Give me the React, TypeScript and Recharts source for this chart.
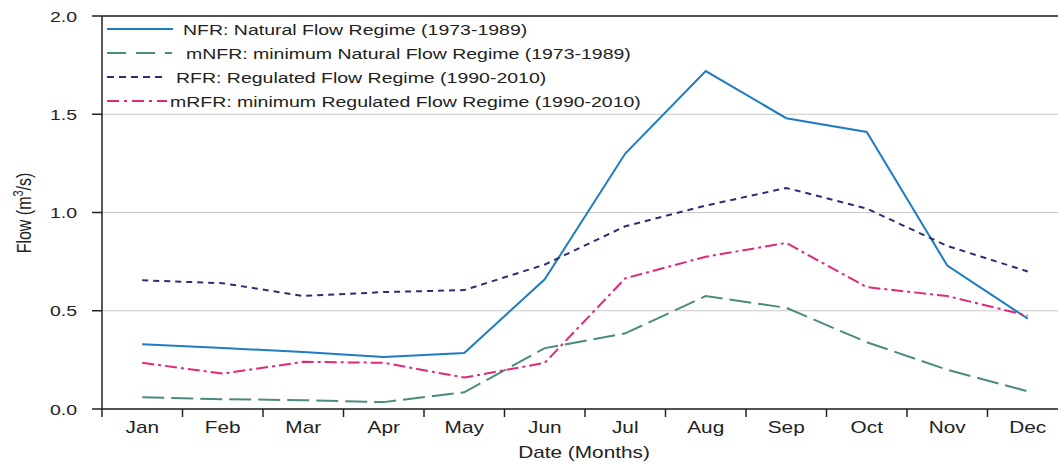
import React from "react";
import { LineChart, Line, XAxis, YAxis, CartesianGrid, ReferenceLine, Legend } from "recharts";

const months = ["Jan", "Feb", "Mar", "Apr", "May", "Jun", "Jul", "Aug", "Sep", "Oct", "Nov", "Dec"];
const nfr = [0.33, 0.31, 0.29, 0.265, 0.285, 0.66, 1.3, 1.72, 1.48, 1.41, 0.73, 0.46];
const mnfr = [0.06, 0.05, 0.045, 0.035, 0.085, 0.31, 0.385, 0.575, 0.515, 0.34, 0.2, 0.09];
const rfr = [0.655, 0.64, 0.575, 0.595, 0.605, 0.735, 0.93, 1.035, 1.125, 1.02, 0.83, 0.7];
const mrfr = [0.235, 0.18, 0.24, 0.235, 0.16, 0.235, 0.665, 0.775, 0.845, 0.62, 0.575, 0.475];
const yTicks = [0, 0.5, 1.0, 1.5, 2.0];

const data = months.map((m, i) => ({ idx: i, month: m, nfr: nfr[i], mnfr: mnfr[i], rfr: rfr[i], mrfr: mrfr[i] }));
const xTicks: number[] = [];
for (let i = -0.5; i <= 11.5; i += 0.5) xTicks.push(i);

const FONT = "'Liberation Sans', Arial, Helvetica, sans-serif";
const SX = 1.3;

const series = [
  { key: "nfr", name: "NFR: Natural Flow Regime (1973-1989)", color: "#1f7cc2", dash: undefined as string | undefined, textX: 183, sampleEnd: 173, sampleDash: undefined as string | undefined },
  { key: "mnfr", name: "mNFR: minimum Natural Flow Regime (1973-1989)", color: "#4b8a7f", dash: "22 7", textX: 186, sampleEnd: 172, sampleDash: "19 10" },
  { key: "rfr", name: "RFR: Regulated Flow Regime (1990-2010)", color: "#2d2d74", dash: "6 5", textX: 176, sampleEnd: 162, sampleDash: "7 5" },
  { key: "mrfr", name: "mRFR: minimum Regulated Flow Regime (1990-2010)", color: "#e0287c", dash: "12 4 3 4", textX: 170, sampleEnd: 167, sampleDash: "12 5 3 5" },
];

const SText = ({ x, y, size, anchor, children }: any) => (
  <text
    transform={`translate(${x},${y}) scale(${SX},1)`}
    x={0}
    y={0}
    textAnchor={anchor || "start"}
    fontSize={size}
    fill="#222"
    fontFamily={FONT}
  >
    {children}
  </text>
);

const XTick = (props: any) => {
  const { x, y, payload } = props;
  const v = payload.value;
  if (Math.abs(v - Math.round(v)) < 1e-6) {
    return (
      <SText x={x} y={y + 24} size={16} anchor="middle">
        {months[Math.round(v)]}
      </SText>
    );
  }
  return <line x1={x} x2={x} y1={y} y2={y + 8} stroke="#222" strokeWidth={1.5} />;
};

const YTick = (props: any) => {
  const { x, y, payload } = props;
  return (
    <SText x={x} y={y + 5.5} size={15} anchor="end">
      {Number(payload.value).toFixed(1)}
    </SText>
  );
};

const LegendContent = () => (
  <svg width={600} height={100} style={{ display: "block" }}>
    {series.map((s, i) => {
      const cy = 11 + i * 24;
      return (
        <g key={s.key}>
          <line x1={5} x2={s.sampleEnd - 102} y1={cy} y2={cy} stroke={s.color} strokeWidth={2} strokeDasharray={s.sampleDash} />
          <SText x={s.textX - 102} y={cy + 5.5} size={15}>
            {s.name}
          </SText>
        </g>
      );
    })}
  </svg>
);

export default function App() {
  return (
    <div style={{ position: "absolute", left: 0, top: 0, width: 1058, height: 466, overflow: "hidden", background: "#fff" }}>
      <LineChart width={1070} height={466} data={data} margin={{ top: 16, right: 2, bottom: 0, left: 0 }}>
        <CartesianGrid vertical={false} stroke="#c8c8c8" strokeWidth={1} />
        <XAxis
          dataKey="idx"
          type="number"
          domain={[-0.5, 11.5]}
          ticks={xTicks}
          interval={0}
          tickLine={false}
          tickSize={0}
          tickMargin={0}
          tick={<XTick />}
          height={57}
          stroke="#222"
          strokeWidth={1.5}
          label={{
            content: () => (
              <SText x={584} y={458} size={16} anchor="middle">
                Date (Months)
              </SText>
            ),
          }}
        />
        <YAxis
          type="number"
          domain={[0, 2]}
          ticks={yTicks}
          interval={0}
          width={102}
          tickSize={10}
          tickMargin={15}
          tick={<YTick />}
          stroke="#222"
          strokeWidth={1.5}
          label={{
            content: () => (
              <text
                transform="translate(31,213) rotate(-90) scale(1,1.3)"
                x={0}
                y={0}
                textAnchor="middle"
                fontSize={16}
                fill="#222"
                fontFamily={FONT}
              >
                Flow (m<tspan dy={-6} fontSize={11}>3</tspan><tspan dy={6}>/s)</tspan>
              </text>
            ),
          }}
        />
        <ReferenceLine y={2} stroke="#222" strokeWidth={1.5} />
        <Legend
          layout="horizontal"
          verticalAlign="middle"
          align="center"
          wrapperStyle={{ position: "absolute", top: 18, left: 102, width: 600, height: 100 }}
          content={<LegendContent />}
        />
        {series.map((s) => (
          <Line
            key={s.key}
            dataKey={s.key}
            name={s.name}
            stroke={s.color}
            strokeWidth={2}
            strokeDasharray={s.dash}
            dot={false}
            activeDot={false}
            isAnimationActive={false}
            type="linear"
          />
        ))}
      </LineChart>
    </div>
  );
}
